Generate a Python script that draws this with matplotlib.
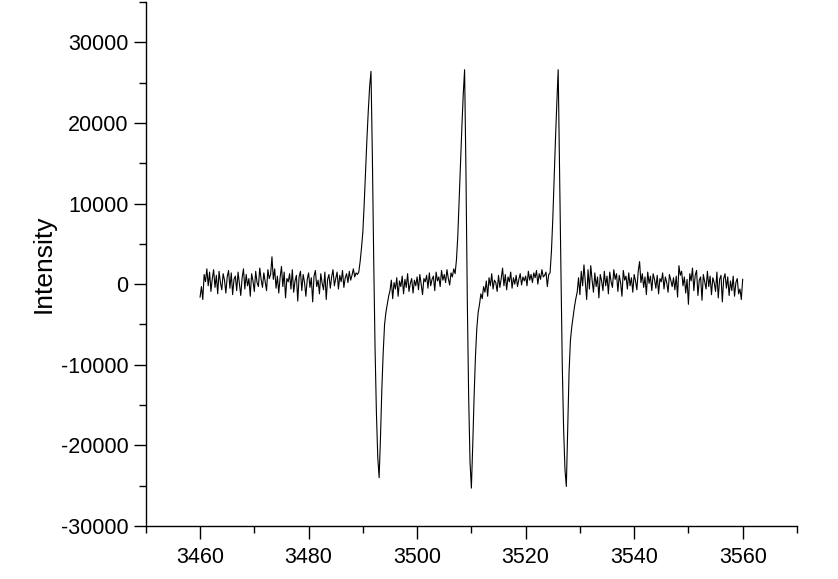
import numpy as np
import matplotlib.pyplot as plt
from matplotlib.ticker import MultipleLocator

plt.rcParams['font.family'] = ['Liberation Sans', 'DejaVu Sans']
plt.rcParams['axes.unicode_minus'] = False

# magnetic field (G), 0.25 G steps
field = np.linspace(3460, 3560, 401)

# intensity, 20 values per 5 G
intensity = [
    -1600, -300, -1900, 1200, 300, 1900, -200, 1500, -900, 700, 1800, -400, 1100, -1200, 1600, 200, -700, 1300, 500, -1100,
    900, 1700, -500, 1400, -1300, 600, 1000, -800, 1500, 100, -1400, 800, 1900, -600, 1200, -200, 700, -1500, 1300, 400,
    -900, 1600, 200, -300, 2000, 600, -400, 1400, 300, -800, 1800, 700, 1200, 3400, 600, 1900, -500, 1000, -1100, 800,
    2200, -300, 1500, -1700, 700, 300, 1300, -600, 1800, -1000, 400, 1100, -2100, 900, 1600, -800, 1200, 200, -1500, 600,
    1400, -400, 800, -2200, 1000, 1700, -300, 500, -1200, 1300, 100, -700, 1500, -1900, 600, 1200, -500, 900, 1800, -200,
    700, 1500, -600, 1100, 300, 1700, -400, 800, 1300, 200, 1600, 500, 1100, 1900, 900, 1400, 1200, 1500, 2800, 4500,
    6500, 10000, 14000, 18000, 21500, 24500, 26400, 16000, 3000, -8000, -16000, -21500, -24000, -19000, -13000, -8500, -5000, -3500, -2500, -1500,
    -800, 500, -1800, 200, -600, 800, -1500, 400, -300, 1000, -1200, 600, -400, 1300, -900, 100, 700, -1100, 500, -200,
    900, -700, 1200, 0, -1300, 700, 300, 1100, -500, 1400, -200, 600, 1000, -800, 1500, 400, 900, -300, 1700, 500,
    1200, 200, 1800, 700, -100, 1400, 900, 1900, 1300, 3000, 6000, 10500, 15000, 19500, 23500, 26600, 14000, -2000, -14000, -22000,
    -25300, -20000, -14000, -9000, -5500, -3500, -2500, -1200, -1800, -300, -1000, 400, -1500, 800, -200, 1300, -600, 500, 200, -900,
    1100, -400, 700, 2000, -200, 1200, -700, 900, 300, 1500, -500, 800, 0, 1100, -300, 600, 1300, -100, 900, 400,
    1000, -200, 1600, 500, 1200, 200, 1400, 800, 1700, 0, 1300, 600, 1800, 900, 1100, 1500, -300, 1200, 1400, 4000,
    8000, 13000, 18000, 22500, 26600, 14000, 2000, -10000, -18000, -23000, -25100, -18000, -11000, -7000, -5300, -4000, -2800, -1800, -1000, 800,
    -1300, 1600, -200, 2400, 300, -1900, 1800, -600, 2300, 500, -1000, 1400, -300, 900, -1700, 1200, 400, -800, 1600, -200,
    1000, -1200, 1500, 300, -400, 1800, 600, 1300, -900, 1100, 200, -1500, 1700, 500, 1000, -600, 1400, -200, 800, -1000,
    1200, 400, -700, 1600, 2800, 200, 1300, -400, 900, -1300, 1500, 100, 1000, -800, 1300, 600, -500, 1100, -1200, 700,
    300, 1400, -600, 900, 200, -1000, 1200, 500, -300, 800, -700, 1000, -1600, 2300, 1100, 1600, -200, 900, -1100, 600,
    -2500, 1300, 400, 2000, -800, 1100, 1700, -1400, 500, 900, -2000, 1200, 300, -600, 1600, -300, 1000, -1300, 800, 200,
    -900, 1500, -1700, 600, 1100, -2200, 700, 1300, -500, 900, -1400, 400, -800, 1000, -1500, 200, 700, -1200, -600, -1900,
    600,
]

fig = plt.figure(figsize=(8.38, 5.79), dpi=100)
ax = fig.add_axes([0.174, 0.0915, 0.777, 0.905])

ax.plot(field, intensity, color='black', linewidth=0.8)

ax.set_xlim(3450, 3570)
ax.set_ylim(-30000, 35000)
ax.xaxis.set_major_locator(MultipleLocator(20))
ax.xaxis.set_minor_locator(MultipleLocator(10))
ax.yaxis.set_major_locator(MultipleLocator(10000))
ax.yaxis.set_minor_locator(MultipleLocator(5000))

for side in ['top', 'right']:
    ax.spines[side].set_visible(False)
for side in ['left', 'bottom']:
    ax.spines[side].set_linewidth(1.0)

ax.tick_params(which='major', direction='out', length=9, width=1, labelsize=15.5)
ax.tick_params(axis='x', which='major', pad=6)
ax.tick_params(which='minor', direction='out', length=5, width=1)
ax.set_ylabel('Intensity', fontsize=19, labelpad=4)

fig.savefig('out.png', dpi=100)
